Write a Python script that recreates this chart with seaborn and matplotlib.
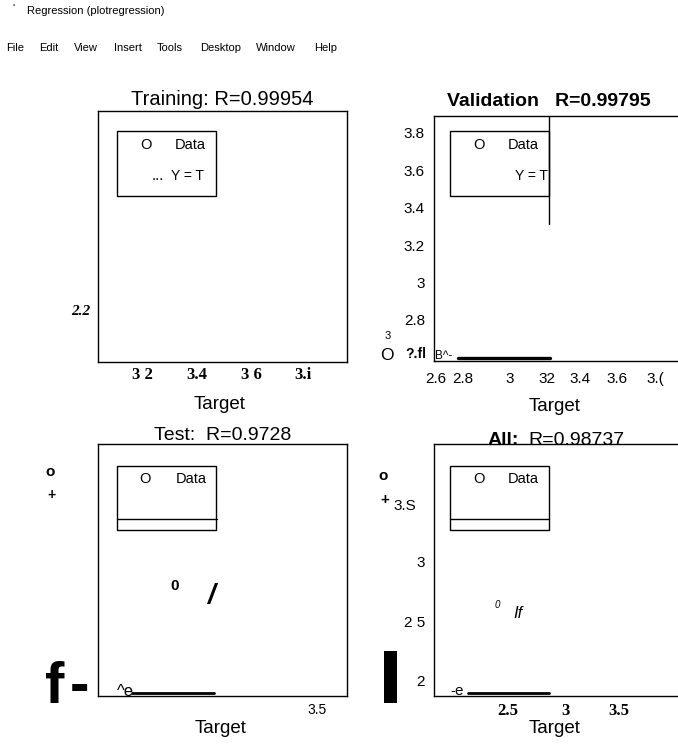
import matplotlib
matplotlib.use("Agg")
import matplotlib.pyplot as plt
import seaborn as sns
from matplotlib.patches import Rectangle
from matplotlib.lines import Line2D

W, H = 678, 750

# ---------------- data / labels ----------------
window_title = "Regression (plotregression)"
menu_items = ["File", "Edit", "View", "Insert", "Tools", "Desktop", "Window", "Help"]
panel_titles = ["Training: R=0.99954", "Validation   R=0.99795", "Test:  R=0.9728", "R=0.98737"]
all_title_bold = "All:"
xlabel = "Target"
legend_data = "Data"
legend_fit = "Y = T"

train_xticklabels = ["3 2", "3.4", "3 6", "3.i"]
val_yticks = [2.8, 3.0, 3.2, 3.4, 3.6, 3.8]
val_yticklabels = ["2.8", "3", "3.2", "3.4", "3.6", "3.8"]
val_xticklabels = ["2.6", "2.8", "3", "32", "3.4", "3.6", "3.("]
all_xticklabels = ["2.5", "3", "3.5"]
all_yticklabels = ["3.S", "3", "2 5", "2"]

val_fit_target = [2.68, 3.18]
val_fit_output = [2.596, 2.596]
val_edge_target = [3.177, 3.177]
val_edge_output = [3.89, 3.31]
test_fit_target = [1.83, 2.62]
test_fit_output = [1.974, 1.974]
all_fit_target = [2.148, 2.859]
all_fit_output = [1.906, 1.906]

# ---------------- style ----------------
sns.set_theme(style="white")
plt.rcParams["font.family"] = ["Liberation Sans", "DejaVu Sans"]
plt.rcParams["text.color"] = "black"
plt.rcParams["axes.labelcolor"] = "black"
plt.rcParams["axes.titlecolor"] = "black"
plt.rcParams["xtick.color"] = "black"
plt.rcParams["ytick.color"] = "black"
plt.rcParams["axes.edgecolor"] = "black"
SERIF = ["Liberation Serif", "DejaVu Serif"]

fig = plt.figure(figsize=(W / 100, H / 100), dpi=100)
fig.patch.set_facecolor("white")


def T(x, y, s, size, ha="left", va="center", **kw):
    fig.text(x / W, 1 - y / H, s, fontsize=size, ha=ha, va=va, color="black", **kw)


def add_ax(x0, y0, x1, y1):
    ax = fig.add_axes([x0 / W, 1 - y1 / H, (x1 - x0) / W, (y1 - y0) / H])
    ax.set_facecolor("white")
    for sp in ax.spines.values():
        sp.set_color("black")
        sp.set_linewidth(1.0)
        sp.set_visible(True)
    ax.set_xticks([])
    ax.set_yticks([])
    return ax


def seg(ax, xs, ys, lw):
    sns.lineplot(x=xs, y=ys, ax=ax, color="black", linewidth=lw,
                 estimator=None, sort=False, errorbar=None)


def rect(x0, y0, x1, y1, filled=False, lw=1.0):
    fig.add_artist(Rectangle((x0 / W, 1 - y1 / H), (x1 - x0) / W, (y1 - y0) / H,
                             transform=fig.transFigure, fill=filled,
                             facecolor="black" if filled else "none",
                             edgecolor="black", linewidth=lw))


def hline(x0, x1, y, lw=1.0):
    fig.add_artist(Line2D([x0 / W, x1 / W], [1 - y / H, 1 - y / H],
                          transform=fig.transFigure, color="black", linewidth=lw))


# ---------------- window chrome ----------------
T(12, 9, "'", 8)
T(27, 11, window_title, 8)
for x, m in zip([6, 39, 74, 114, 157, 200, 256, 314], menu_items):
    T(x, 48, m, 8)

# ---------------- Training ----------------
ax1 = add_ax(98, 111, 347, 362)
ax1.set_title(panel_titles[0], fontsize=14.5, pad=4.5)
rect(117, 131, 216, 196)
T(146, 145, "O", 10.5, ha="center")
T(175, 145, legend_data, 10.5)
T(152, 180, "...", 11, va="baseline")
T(171, 176, legend_fit, 10)
T(90, 311, "2.2", 11, ha="right", family=SERIF, weight="bold", style="italic")
for x, s in zip([142, 197, 251, 303], train_xticklabels):
    T(x, 375, s, 12, ha="center", family=SERIF, weight="bold")
T(220, 409, xlabel, 13.5, ha="center", va="baseline")

# ---------------- Validation ----------------
ax2 = add_ax(434, 116, 700, 361)
ax2.set_xlim(2.55, 4.0)
ax2.set_ylim(2.58, 3.89)
ax2.set_yticks(val_yticks)
ax2.set_yticklabels(val_yticklabels, fontsize=11)
ax2.tick_params(axis="y", length=0, pad=6.5, colors="black")
ax2.set_title(panel_titles[1], fontsize=14, weight="bold", x=0.432, pad=7.2)
seg(ax2, val_fit_target, val_fit_output, 2.4)
seg(ax2, val_edge_target, val_edge_output, 1.0)
ax2.set_xlim(2.55, 4.0)
ax2.set_ylim(2.58, 3.89)
rect(450, 131, 549, 196)
T(479, 145, "O", 10.5, ha="center")
T(508, 145, legend_data, 10.5)
T(548, 176, legend_fit, 10, ha="right")
T(388, 336, "3", 8, ha="center")
T(387, 356, "O", 12.5, ha="center")
T(405, 354, "?.fl", 10, weight="bold")
T(435, 356, "B^-", 8.5)
for x, s in zip([436, 463, 510, 547, 580, 617, 655], val_xticklabels):
    T(x, 379, s, 11, ha="center")
T(555, 411, xlabel, 13.5, ha="center", va="baseline")

# ---------------- Test ----------------
ax3 = add_ax(98, 444, 347, 696)
seg(ax3, test_fit_target, test_fit_output, 2.0)
ax3.set_xlim(1.5, 3.9)
ax3.set_ylim(1.95, 4.0)
ax3.set_title(panel_titles[2], fontsize=14, pad=-0.5)
rect(117, 466, 216, 530)
hline(117, 217, 519)
T(145, 479, "O", 10.5, ha="center")
T(176, 479, legend_data, 10.5)
T(50, 472, "o", 11, ha="center", weight="bold")
T(52, 495, "+", 10, ha="center", weight="bold")
T(175, 586, "0", 11, ha="center", weight="bold")
T(211, 596, "/", 20, ha="center", weight="bold", style="italic")
T(45, 703, "f", 42, va="baseline", weight="bold")
T(70, 703, "-", 42, va="baseline", weight="bold")
T(117, 691, "^e", 12)
T(317, 710, "3.5", 10, ha="center")
T(221, 733, xlabel, 13.5, ha="center", va="baseline")

# ---------------- All ----------------
ax4 = add_ax(434, 444, 700, 696)
seg(ax4, all_fit_target, all_fit_output, 2.0)
ax4.set_xlim(1.85, 4.18)
ax4.set_ylim(1.88, 4.03)
T(488, 445, all_title_bold, 14, va="baseline", weight="bold")
T(528, 445, panel_titles[3], 14, va="baseline")
rect(450, 466, 549, 530)
hline(450, 549, 519)
T(479, 479, "O", 10.5, ha="center")
T(508, 479, legend_data, 10.5)
T(383, 476, "o", 11, ha="center", weight="bold")
T(385, 500, "+", 11, ha="center", weight="bold")
for y, s in zip([506, 563, 623, 682], all_yticklabels):
    T(416 if s == "3.S" else 425, y, s, 11, ha="right")
rect(384, 651, 397, 703, filled=True, lw=0)
T(497, 605, "0", 7, ha="center", style="italic")
T(513, 613, "If", 12, style="italic")
T(450, 691, "-e", 11)
for x, s in zip([508, 565, 619], all_xticklabels):
    T(x, 711, s, 12, ha="center", family=SERIF, weight="bold")
T(555, 733, xlabel, 13.5, ha="center", va="baseline")

fig.savefig("out.png", dpi=100, facecolor="white")
